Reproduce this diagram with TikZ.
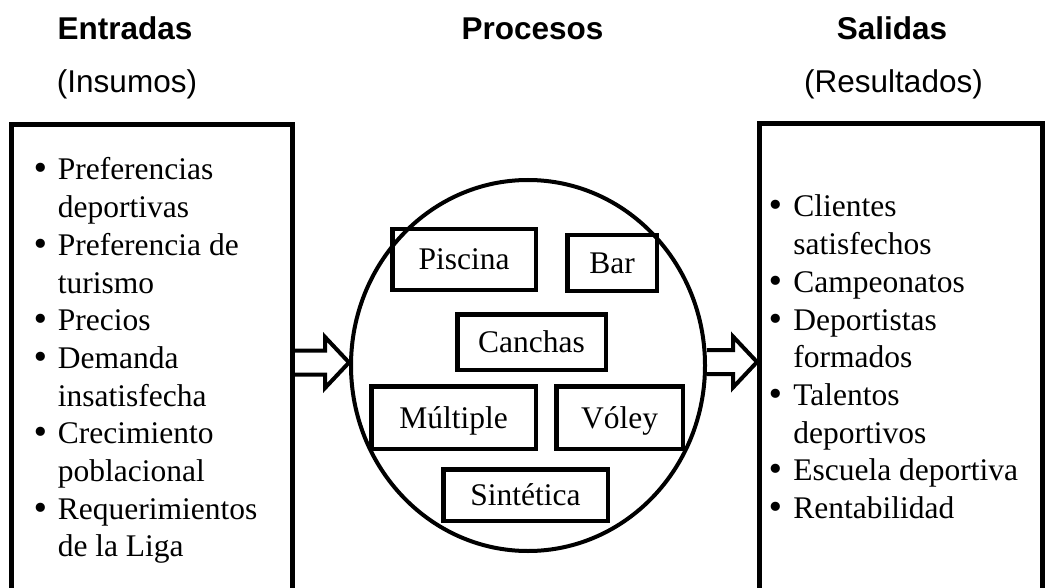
\documentclass[tikz,border=0pt]{standalone}
\usepackage{fontspec}
\setmainfont{Liberation Serif}
\setsansfont{Liberation Sans}
\newfontfamily\bltfont{DejaVu Sans}
\usetikzlibrary{positioning,calc,shapes.geometric}
\newcommand{\blt}{{\bltfont •}}

\begin{document}
\begin{tikzpicture}[
  x=1pt, y=1pt,
  every node/.style={inner sep=0pt, font=\fontsize{31.5}{37.7}\selectfont},
  head/.style={anchor=base, font=\fontsize{31.5}{37.7}\selectfont\sffamily\bfseries},
  sub/.style={anchor=base, font=\fontsize{31.5}{37.7}\selectfont\sffamily},
  frame/.style={rectangle, draw, line width=5pt, minimum height=476},
  area/.style={rectangle, draw, line width=4.5pt, text height=21pt, text depth=0pt},
  hollow/.style={draw, line width=4pt, miter limit=20}
]
  \useasboundingbox (0,0) rectangle (1056,587);
  \clip (0,0) rectangle (1056,587);

  \node[head] (inhead) at (125,547) {Entradas};
  \node[sub] (insub) at (127,494) {(Insumos)};
  \node[head] (prochead) at (532.5,547) {Procesos};
  \node[head] (outhead) at (892,547) {Salidas};
  \node[sub] (outsub) at (893.5,494) {(Resultados)};

  \node[frame, minimum width=280.5] (inbox) at (151.75,224.5) {};
  \node[frame, minimum width=282.5] (outbox) at (900.75,225) {};

  \node[anchor=base west] (inlist) at (31,407) {%
    \begin{tabular}[t]{@{}l@{\hspace{8pt}}l@{}}
      \blt & Preferencias\\
           & deportivas\\
      \blt & Preferencia de\\
           & turismo\\
      \blt & Precios\\
      \blt & Demanda\\
           & insatisfecha\\
      \blt & Crecimiento\\
           & poblacional\\
      \blt & Requerimientos\\
           & de la Liga
    \end{tabular}};
  \node[anchor=base west] (outlist) at (766,370) {%
    \begin{tabular}[t]{@{}l@{\hspace{8.5pt}}l@{}}
      \blt & Clientes\\
           & satisfechos\\
      \blt & Campeonatos\\
      \blt & Deportistas\\
           & formados\\
      \blt & Talentos\\
           & deportivos\\
      \blt & Escuela deportiva\\
      \blt & Rentabilidad
    \end{tabular}};

  \node[ellipse, draw, line width=4pt, minimum width=354, minimum height=371] (proc) at (528,221.5) {};

  \node[area, minimum width=143.5, minimum height=60.5] (pool) at (464,327.5) {Piscina};
  \node[area, minimum width=89.5, minimum height=55.5] (bar) at (612,324) {Bar};
  \node[area, minimum width=148.5, minimum height=55.5] (courts) at (531.5,245) {Canchas};
  \node[area, minimum width=164.5, minimum height=62.5] (multi) at (453.5,169.5) {Múltiple};
  \node[area, minimum width=126.5, minimum height=62.5] (volley) at (619.5,169.5) {Vóley};
  \node[area, minimum width=164.5, minimum height=51.5] (synth) at (525.5,92) {Sintética};

  \draw[hollow] ($(inbox.east)+(0,12)$) -- ($(inbox.east -| proc.west)+(-24,12)$)
    -- ++(0,13.5) -- (inbox.east -| proc.west) -- ++(-24,-25.5) -- ++(0,13.5)
    -- ($(inbox.east)+(0,-12)$);
  \draw[hollow] ($(proc.east |- outbox.west)+(0,12)$) -- ($(outbox.west)+(-24,12)$)
    -- ++(0,13.5) -- (outbox.west) -- ++(-24,-25.5) -- ++(0,13.5)
    -- ($(proc.east |- outbox.west)+(0,-12)$);
\end{tikzpicture}
\end{document}
